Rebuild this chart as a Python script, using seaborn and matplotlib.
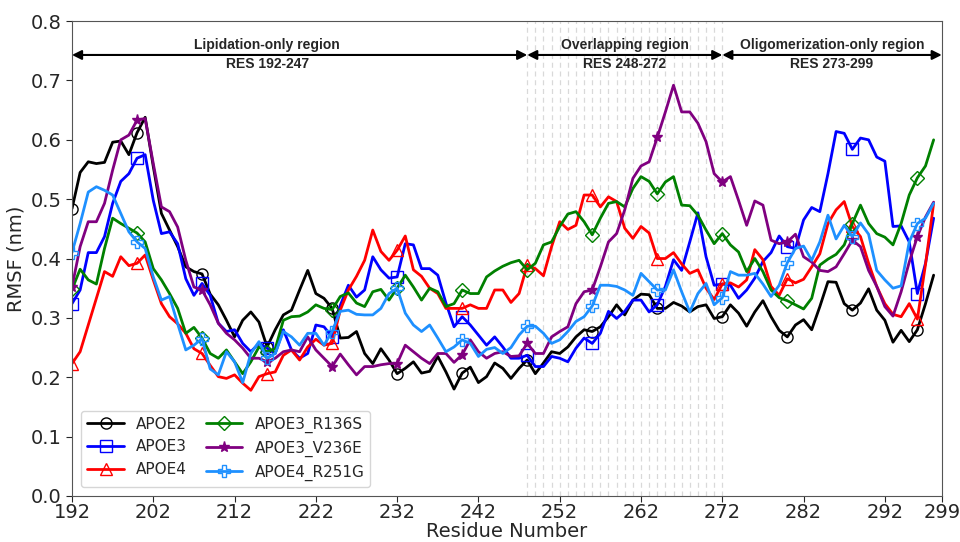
import numpy as np
import pandas as pd
import matplotlib
matplotlib.use("Agg")
import matplotlib.pyplot as plt
import seaborn as sns

# Residue numbers 192-298
residues = list(range(192, 299))

apoe2 = [0.484, 0.545, 0.563, 0.560, 0.562, 0.596, 0.598, 0.575, 0.612, 0.638,
         0.555, 0.476, 0.448, 0.420, 0.386, 0.378, 0.374, 0.340, 0.322, 0.296,
         0.268, 0.296, 0.310, 0.293, 0.251, 0.280, 0.305, 0.313, 0.347, 0.380,
         0.341, 0.333, 0.316, 0.266, 0.267, 0.277, 0.240, 0.223, 0.248, 0.229,
         0.206, 0.215, 0.226, 0.207, 0.210, 0.235, 0.209, 0.180, 0.207, 0.217,
         0.191, 0.201, 0.224, 0.215, 0.198, 0.215, 0.229, 0.206, 0.224, 0.243,
         0.240, 0.251, 0.268, 0.280, 0.277, 0.285, 0.302, 0.322, 0.305, 0.330,
         0.340, 0.339, 0.316, 0.316, 0.326, 0.320, 0.310, 0.319, 0.322, 0.299,
         0.302, 0.322, 0.308, 0.286, 0.310, 0.329, 0.302, 0.279, 0.268, 0.288,
         0.297, 0.280, 0.319, 0.361, 0.360, 0.324, 0.313, 0.325, 0.349, 0.313,
         0.296, 0.259, 0.279, 0.260, 0.280, 0.324, 0.372]

apoe3 = [0.324, 0.347, 0.410, 0.410, 0.437, 0.493, 0.530, 0.543, 0.569, 0.575,
         0.498, 0.442, 0.445, 0.425, 0.366, 0.338, 0.358, 0.338, 0.291, 0.277,
         0.280, 0.257, 0.243, 0.257, 0.249, 0.240, 0.280, 0.246, 0.232, 0.240,
         0.288, 0.285, 0.268, 0.321, 0.355, 0.335, 0.347, 0.403, 0.381, 0.367,
         0.369, 0.425, 0.423, 0.383, 0.383, 0.372, 0.325, 0.285, 0.302, 0.288,
         0.271, 0.254, 0.268, 0.251, 0.232, 0.232, 0.237, 0.218, 0.218, 0.235,
         0.232, 0.226, 0.249, 0.266, 0.257, 0.274, 0.311, 0.299, 0.311, 0.330,
         0.330, 0.310, 0.322, 0.353, 0.398, 0.380, 0.428, 0.477, 0.403, 0.355,
         0.357, 0.355, 0.333, 0.347, 0.367, 0.395, 0.410, 0.438, 0.420, 0.417,
         0.465, 0.486, 0.479, 0.543, 0.614, 0.611, 0.584, 0.603, 0.600, 0.571,
         0.564, 0.454, 0.455, 0.428, 0.341, 0.392, 0.468]

apoe4 = [0.223, 0.243, 0.288, 0.333, 0.378, 0.370, 0.403, 0.388, 0.392, 0.406,
         0.364, 0.324, 0.302, 0.290, 0.274, 0.248, 0.240, 0.220, 0.201, 0.198,
         0.204, 0.190, 0.178, 0.201, 0.206, 0.209, 0.237, 0.246, 0.229, 0.251,
         0.264, 0.254, 0.257, 0.313, 0.347, 0.370, 0.397, 0.448, 0.412, 0.397,
         0.414, 0.438, 0.381, 0.370, 0.350, 0.341, 0.316, 0.316, 0.316, 0.322,
         0.316, 0.316, 0.347, 0.347, 0.326, 0.341, 0.389, 0.383, 0.371, 0.420,
         0.462, 0.449, 0.456, 0.507, 0.507, 0.487, 0.504, 0.496, 0.451, 0.434,
         0.454, 0.443, 0.400, 0.400, 0.410, 0.391, 0.375, 0.381, 0.350, 0.331,
         0.357, 0.359, 0.352, 0.364, 0.415, 0.398, 0.353, 0.338, 0.366, 0.359,
         0.365, 0.386, 0.408, 0.459, 0.482, 0.496, 0.454, 0.437, 0.392, 0.353,
         0.324, 0.306, 0.302, 0.324, 0.298, 0.390, 0.493]

apoe3_r136s = [0.348, 0.382, 0.364, 0.357, 0.417, 0.468, 0.459, 0.451, 0.443, 0.428,
               0.383, 0.364, 0.341, 0.316, 0.274, 0.284, 0.266, 0.240, 0.232, 0.246,
               0.226, 0.206, 0.226, 0.251, 0.243, 0.248, 0.296, 0.302, 0.303, 0.310,
               0.322, 0.316, 0.314, 0.336, 0.342, 0.325, 0.319, 0.344, 0.348, 0.330,
               0.350, 0.372, 0.352, 0.330, 0.350, 0.344, 0.319, 0.324, 0.347, 0.341,
               0.341, 0.369, 0.379, 0.387, 0.393, 0.397, 0.381, 0.392, 0.423, 0.428,
               0.454, 0.475, 0.479, 0.462, 0.440, 0.468, 0.493, 0.496, 0.487, 0.518,
               0.538, 0.530, 0.509, 0.529, 0.538, 0.490, 0.489, 0.473, 0.448, 0.425,
               0.442, 0.423, 0.411, 0.378, 0.400, 0.378, 0.347, 0.334, 0.329, 0.322,
               0.315, 0.333, 0.389, 0.399, 0.407, 0.423, 0.459, 0.490, 0.459, 0.442,
               0.436, 0.423, 0.459, 0.507, 0.536, 0.556, 0.600]

apoe3_v236e = [0.352, 0.420, 0.462, 0.462, 0.493, 0.549, 0.600, 0.608, 0.633, 0.636,
               0.560, 0.487, 0.479, 0.453, 0.397, 0.352, 0.347, 0.322, 0.291, 0.274,
               0.263, 0.249, 0.232, 0.232, 0.226, 0.232, 0.243, 0.246, 0.243, 0.268,
               0.246, 0.232, 0.218, 0.239, 0.221, 0.204, 0.218, 0.218, 0.221, 0.223,
               0.223, 0.254, 0.243, 0.232, 0.223, 0.240, 0.240, 0.225, 0.238, 0.263,
               0.243, 0.232, 0.240, 0.243, 0.235, 0.236, 0.257, 0.240, 0.240, 0.268,
               0.277, 0.285, 0.324, 0.344, 0.347, 0.386, 0.428, 0.442, 0.482, 0.535,
               0.556, 0.563, 0.604, 0.647, 0.692, 0.647, 0.647, 0.628, 0.597, 0.543,
               0.529, 0.538, 0.498, 0.456, 0.497, 0.490, 0.431, 0.425, 0.428, 0.441,
               0.403, 0.394, 0.380, 0.378, 0.386, 0.408, 0.431, 0.420, 0.380, 0.353,
               0.319, 0.303, 0.344, 0.394, 0.437, 0.470, 0.495]

apoe4_r251g = [0.410, 0.459, 0.512, 0.521, 0.515, 0.507, 0.476, 0.445, 0.428, 0.417,
               0.369, 0.330, 0.336, 0.290, 0.246, 0.254, 0.265, 0.214, 0.204, 0.243,
               0.226, 0.191, 0.240, 0.260, 0.232, 0.240, 0.277, 0.268, 0.254, 0.274,
               0.274, 0.254, 0.277, 0.311, 0.313, 0.306, 0.305, 0.305, 0.316, 0.341,
               0.350, 0.308, 0.288, 0.277, 0.288, 0.266, 0.243, 0.251, 0.263, 0.257,
               0.235, 0.247, 0.250, 0.240, 0.250, 0.271, 0.286, 0.286, 0.274, 0.257,
               0.263, 0.277, 0.294, 0.302, 0.320, 0.355, 0.355, 0.353, 0.347, 0.338,
               0.375, 0.361, 0.347, 0.347, 0.381, 0.344, 0.310, 0.341, 0.358, 0.322,
               0.334, 0.378, 0.372, 0.372, 0.375, 0.357, 0.336, 0.355, 0.393, 0.417,
               0.421, 0.397, 0.428, 0.473, 0.433, 0.456, 0.437, 0.460, 0.441, 0.380,
               0.364, 0.350, 0.354, 0.428, 0.459, 0.468, 0.493]

series_names = ["APOE2", "APOE3", "APOE4", "APOE3_R136S", "APOE3_V236E", "APOE4_R251G"]
series_values = [apoe2, apoe3, apoe4, apoe3_r136s, apoe3_v236e, apoe4_r251g]
series_colors = ["#000000", "#0000ff", "#ff0000", "#008000", "#800080", "#1e90ff"]
series_markers = ["o", "s", "^", "D", "*", "P"]

x_ticks = [192, 202, 212, 222, 232, 242, 252, 262, 272, 282, 292, 299]

regions = [
    (192, 248, 216, "Lipidation-only region\nRES 192-247"),
    (248, 272, 260, "Overlapping region\nRES 248-272"),
    (272, 299, 285.5, "Oligomerization-only region\nRES 273-299"),
]

sns.set_style("ticks")
plt.rcParams["font.family"] = ["DejaVu Sans"]

fig = plt.figure(figsize=(9.6, 5.42), dpi=100)
ax = fig.add_axes([0.075, 0.085, 0.906, 0.876])

# Overlapping region: one dashed guide per residue
for r in range(248, 273):
    ax.axvline(r, color="#d9d9d9", linestyle=(0, (4, 3)), linewidth=0.9, zorder=0)

for name, vals, col, mk in zip(series_names, series_values, series_colors, series_markers):
    df = pd.DataFrame({"Residue": residues, "RMSF": vals})
    ms = {"*": 8, "D": 7}.get(mk, 8)
    face = col if mk == "*" else "none"
    sns.lineplot(data=df, x="Residue", y="RMSF", ax=ax, color=col, linewidth=2.0,
                 marker=mk, markevery=8, markersize=ms, markerfacecolor=face,
                 markeredgecolor=col, markeredgewidth=1.0, label=name)

# Region arrows and captions
arrow_y = 0.743
for x0, x1, xc, label in regions:
    ax.annotate("", xy=(x0, arrow_y), xytext=(x1, arrow_y),
                arrowprops=dict(arrowstyle="<|-|>", color="black", lw=1.5,
                                mutation_scale=14, shrinkA=0, shrinkB=0))
    ax.text(xc, arrow_y, label, ha="center", va="center", fontsize=10,
            fontweight="bold", family=["Liberation Sans", "DejaVu Sans"],
            linespacing=1.45, zorder=5)

ax.set_xlim(192, 299)
ax.set_ylim(0, 0.8)
ax.set_xticks(x_ticks)
ax.set_yticks(np.arange(0, 0.81, 0.1))
ax.yaxis.set_major_formatter(matplotlib.ticker.FormatStrFormatter("%.1f"))
ax.tick_params(axis="both", labelsize=14, length=4)
ax.tick_params(axis="x", pad=1)
ax.set_xlabel("Residue Number", fontsize=14, labelpad=0)
ax.set_ylabel("RMSF (nm)", fontsize=14)
for s in ax.spines.values():
    s.set_visible(True)
    s.set_color("#555555")

ax.legend(loc="lower left", ncol=2, fontsize=11, frameon=True,
          borderaxespad=0.6, columnspacing=1.2, handlelength=2.4)

fig.savefig("out.png", dpi=100)
